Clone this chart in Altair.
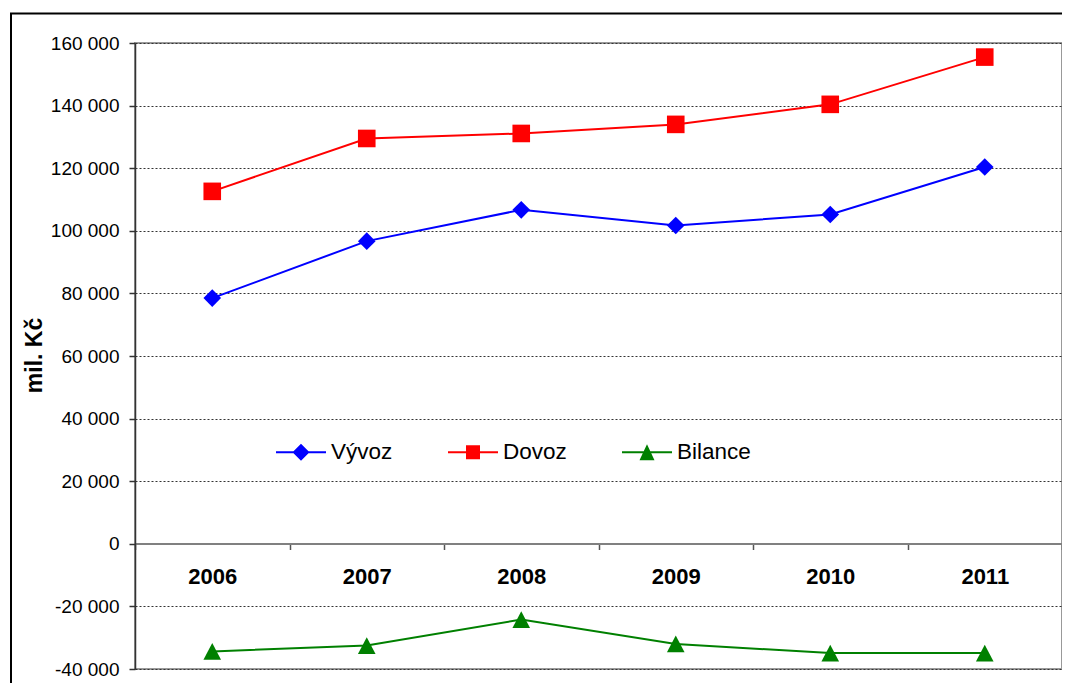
import altair as alt
import pandas as pd

years = ["2006", "2007", "2008", "2009", "2010", "2011"]
series_names = ["Vývoz", "Dovoz", "Bilance"]
vyvoz = [78500, 96700, 106700, 101700, 105200, 120400]
dovoz = [112600, 129500, 131100, 134000, 140400, 155500]
bilance = [-34400, -32500, -24200, -32000, -34900, -34900]
colors = ["#0000ff", "#ff0000", "#008000"]
y_ticks = list(range(-40000, 160001, 20000))

rows = []
for name, vals in zip(series_names, [vyvoz, dovoz, bilance]):
    for yr, v in zip(years, vals):
        rows.append({"year": yr, "series": name, "value": v})
df = pd.DataFrame(rows)

FONT = "Liberation Sans"
W, H = 927, 626


def cscale():
    return alt.Scale(domain=series_names, range=colors)


x_enc = alt.X(
    "year:N",
    scale=alt.Scale(type="band", paddingInner=0, paddingOuter=0),
    axis=alt.Axis(
        orient="bottom", offset=-125.5, title=None, labelAngle=0,
        labelFont=FONT, labelFontSize=22, labelFontWeight="bold", labelColor="#000",
        labelPadding=17, domainColor="#808080", domainWidth=2,
        tickColor="#555", tickWidth=1.5, tickSize=6, tickBand="extent", grid=False,
    ),
)
y_enc = alt.Y(
    "value:Q",
    scale=alt.Scale(domain=[-40000, 160000], nice=False, zero=False),
    axis=alt.Axis(
        values=y_ticks, title="mil. Kč", titleFont=FONT, titleFontSize=23,
        titleFontWeight="bold", titleColor="#000", titleAngle=270,
        titleX=-101, titleY=312, titleAlign="center", titleBaseline="middle",
        labelFont=FONT, labelFontSize=19, labelColor="#000", labelPadding=10,
        labelExpr="(datum.value < 0 ? '-' : '') + replace(format(abs(datum.value), ','), ',', ' ')",
        domainColor="#333", domainWidth=1.5, tickColor="#333", tickWidth=1.5, tickSize=6,
        grid=True, gridColor="#333", gridWidth=1, gridDash=[2, 2],
    ),
)

base = alt.Chart(df)

lines = base.mark_line(strokeWidth=2).encode(
    x=x_enc, y=y_enc,
    color=alt.Color("series:N", scale=cscale(), legend=None),
)

points = base.mark_point(filled=True, opacity=1, size=310, strokeWidth=0).encode(
    x=x_enc, y=y_enc,
    color=alt.Color("series:N", scale=cscale(), legend=None),
    shape=alt.Shape(
        "series:N",
        scale=alt.Scale(domain=series_names,
                        range=["diamond", "square", "M0,-0.95L1,0.95L-1,0.95Z"]),
        legend=None,
    ),
)

legend_paths = [
    "M-1,-0.04H-0.3V0.04H-1Z M0.3,-0.04H1V0.04H0.3Z M-0.34,0L0,-0.34L0.34,0L0,0.34Z",
    "M-1,-0.04H-0.26V0.04H-1Z M0.26,-0.04H1V0.04H0.26Z M-0.28,-0.28H0.28V0.28H-0.28Z",
    "M-1,-0.04H-0.12V0.04H-1Z M0.12,-0.04H1V0.04H0.12Z M0,-0.32L0.3,0.32L-0.3,0.32Z",
]
leg = alt.Legend(
    title=None, orient="none", legendX=141, legendY=384, direction="horizontal",
    symbolSize=2500, symbolStrokeWidth=0, labelFont=FONT, labelFontSize=22.5,
    labelColor="#000", labelOffset=5, columnPadding=55, padding=0, labelLimit=300,
)
legend_layer = base.mark_point(filled=True, opacity=1, strokeWidth=0).encode(
    color=alt.Color("series:N", scale=cscale(), legend=leg),
    shape=alt.Shape("series:N", scale=alt.Scale(domain=series_names, range=legend_paths),
                    legend=leg),
).transform_filter("false")

frame = alt.Chart(alt.Data(values=[{"k": 1}])).mark_rect(
    fillOpacity=0, stroke="black", strokeWidth=2
).encode(
    x=alt.value(-124), x2=alt.value(W + 40),
    y=alt.value(-29.5), y2=alt.value(H + 60),
)

chart = alt.layer(lines, points, legend_layer, frame).resolve_scale(
    shape="independent", color="independent"
).properties(
    width=W, height=H,
    autosize=alt.AutoSizeParams(type="none"),
    padding={"left": 127, "top": 35, "right": 0, "bottom": 14},
    background="white",
).configure_view(stroke="#999", strokeWidth=2)

chart.save("out.html", embed_options={"renderer": "svg", "actions": False})
